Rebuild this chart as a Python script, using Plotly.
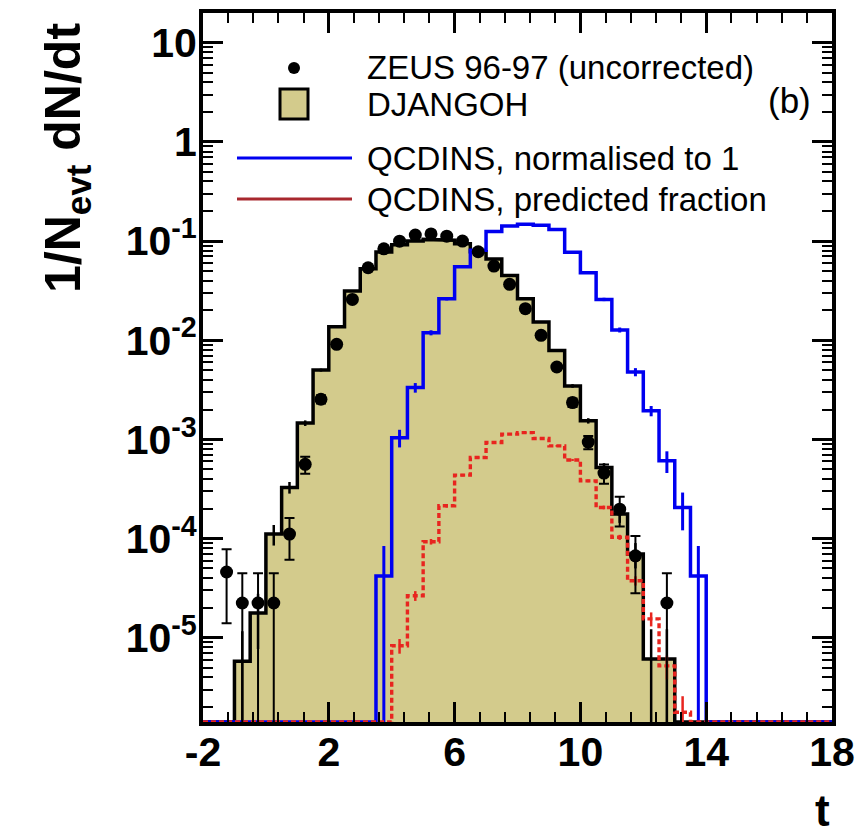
import numpy as np
import plotly.graph_objects as go

# ---------------- data ----------------
BIN_LO = -2.0
BIN_W = 0.5
N_BINS = 40

# DJANGOH MC, 1/N dN/dt per bin (bins of 0.5 starting at t=-2)
djangoh = [0, 0, 5.8e-6, 1.77e-5, 1.11e-4, 3.28e-4, 1.46e-3, 5.0e-3, 1.37e-2, 3.13e-2,
           5.26e-2, 7.74e-2, 9.2e-2, 1.00e-1, 1.04e-1, 1.02e-1, 9.4e-2, 7.8e-2, 6.6e-2, 4.5e-2,
           2.62e-2, 1.53e-2, 7.9e-3, 3.46e-3, 1.54e-3, 5.2e-4, 1.77e-4, 7.0e-5, 6.1e-6, 6.1e-6,
           0, 0, 0, 0, 0, 0, 0, 0, 0, 0]
djangoh_err = [0, 0, 5.8e-6, 1.0e-5, 2.6e-5, 4.4e-5, 9.4e-5, 1.7e-4, 2.9e-4, 4.3e-4,
               5.6e-4, 6.8e-4, 7.4e-4, 7.8e-4, 7.9e-4, 7.8e-4, 7.5e-4, 6.8e-4, 6.3e-4, 5.2e-4,
               4.0e-4, 3.0e-4, 2.2e-4, 1.45e-4, 9.6e-5, 5.6e-5, 3.3e-5, 2.0e-5, 6.1e-6, 6.1e-6,
               0, 0, 0, 0, 0, 0, 0, 0, 0, 0]

# QCDINS normalised to 1
qcdins_norm = [0, 0, 0, 0, 0, 0, 0, 0, 0, 0,
               0, 4.2e-5, 1.04e-3, 3.33e-3, 1.19e-2, 2.62e-2, 5.5e-2, 8.1e-2, 1.25e-1, 1.42e-1,
               1.48e-1, 1.44e-1, 1.31e-1, 7.7e-2, 4.8e-2, 2.58e-2, 1.27e-2, 4.78e-3, 1.94e-3, 6.08e-4,
               2.06e-4, 4.2e-5, 0, 0, 0, 0, 0, 0, 0, 0]
qcdins_norm_err = [0, 0, 0, 0, 0, 0, 0, 0, 0, 0,
                   0, 4.2e-5, 2.1e-4, 3.7e-4, 7.0e-4, 1.0e-3, 1.5e-3, 1.8e-3, 2.3e-3, 2.4e-3,
                   2.5e-3, 2.4e-3, 2.3e-3, 1.8e-3, 1.4e-3, 1.0e-3, 7.3e-4, 4.5e-4, 2.3e-4, 1.5e-4,
                   8.5e-5, 4.2e-5, 0, 0, 0, 0, 0, 0, 0, 0]

# QCDINS predicted fraction
qcdins_frac = [0, 0, 0, 0, 0, 0, 0, 0, 0, 0,
               0, 0, 8.3e-6, 2.65e-5, 9.3e-5, 2.14e-4, 4.36e-4, 6.56e-4, 9.3e-4, 1.13e-3,
               1.17e-3, 1.02e-3, 8.6e-4, 6.2e-4, 3.82e-4, 2.06e-4, 1.03e-4, 3.76e-5, 1.55e-5, 5.2e-6,
               1.77e-6, 0, 0, 0, 0, 0, 0, 0, 0, 0]
qcdins_frac_err = [0, 0, 0, 0, 0, 0, 0, 0, 0, 0,
                   0, 0, 1.4e-6, 3.0e-6, 6.0e-6, 9.0e-6, 1.3e-5, 1.6e-5, 1.9e-5, 2.1e-5,
                   2.1e-5, 2.0e-5, 1.8e-5, 1.5e-5, 1.2e-5, 9.0e-6, 6.0e-6, 4.0e-6, 2.5e-6, 1.4e-6,
                   8.0e-7, 0, 0, 0, 0, 0, 0, 0, 0, 0]

# ZEUS 96-97 data points
data_t = [-1.25, -0.75, -0.25, 0.25, 0.75, 1.25, 1.75, 2.25, 2.75, 3.25, 3.75, 4.25, 4.75, 5.25,
          5.75, 6.25, 6.75, 7.25, 7.75, 8.25, 8.75, 9.25, 9.75, 10.25, 10.75, 11.25, 11.75, 12.75]
data_v = [4.6e-5, 2.24e-5, 2.24e-5, 2.24e-5, 1.11e-4, 5.6e-4, 2.54e-3, 9.1e-3, 2.58e-2, 5.38e-2,
          8.36e-2, 9.98e-2, 1.15e-1, 1.18e-1, 1.12e-1, 1.00e-1, 7.8e-2, 5.59e-2, 3.66e-2, 2.08e-2,
          1.12e-2, 5.37e-3, 2.35e-3, 9.4e-4, 4.57e-4, 1.98e-4, 6.7e-5, 2.24e-5]
data_e = [3.2e-5, 2.24e-5, 2.24e-5, 2.24e-5, 5.0e-5, 1.1e-4, 2.4e-4, 4.5e-4, 7.6e-4, 1.1e-3,
          1.4e-3, 1.5e-3, 1.6e-3, 1.6e-3, 1.6e-3, 1.5e-3, 1.3e-3, 1.1e-3, 9.0e-4, 6.8e-4,
          5.0e-4, 3.5e-4, 2.3e-4, 1.45e-4, 1.0e-4, 6.6e-5, 3.9e-5, 2.24e-5]

x_tick_vals = [-2, 2, 6, 10, 14, 18]
x_tick_text = ["-2", "2", "6", "10", "14", "18"]
y_tick_vals = [10, 1, 1e-1, 1e-2, 1e-3, 1e-4, 1e-5]
y_tick_text = ["10", "1", "10<sup>-1</sup>", "10<sup>-2</sup>", "10<sup>-3</sup>",
               "10<sup>-4</sup>", "10<sup>-5</sup>"]

legend_labels = ["ZEUS 96-97 (uncorrected)", "DJANGOH",
                 "QCDINS, normalised to 1", "QCDINS, predicted fraction"]

# ---------------- styling / layout ----------------
BODY = 8                      # default page margin of the html body
W, H = 866 - BODY, 837 - BODY
# plot area in page pixels
PL, PR, PT, PB = 203, 832, 13, 722
L, T = PL - BODY, PT - BODY
R, B = W - (PR - BODY), H - (PB - BODY)
PW, PH = PR - PL, PB - PT
X_RANGE = [-2, 18]
Y_LOG_RANGE = [-5.85, 1.30]
FLOOR = 10 ** Y_LOG_RANGE[0]

FILL = "rgb(211,203,140)"
BLUE = "#0000F0"
RED = "#E8251F"
RED_LEG = "#A8282E"
FONT = "Liberation Sans, Arial, sans-serif"

edges = BIN_LO + BIN_W * np.arange(N_BINS + 1)
centers = 0.5 * (edges[:-1] + edges[1:])


def step_xy(vals):
    xs, ys = [], []
    for lo, hi, v in zip(edges[:-1], edges[1:], vals):
        v = v if v > 0 else FLOOR
        xs += [lo, hi]
        ys += [v, v]
    return xs, ys


def err_trace(vals, errs, color, width):
    cx, cy, ce = [], [], []
    for c, v, e in zip(centers, vals, errs):
        if v > 0 and e > 0:
            cx.append(c); cy.append(v); ce.append(e)
    return go.Scatter(x=cx, y=cy, mode="markers",
                      marker=dict(size=1, color="rgba(0,0,0,0)"),
                      error_y=dict(type="data", array=ce, arrayminus=ce, color=color,
                                   thickness=width, width=0),
                      showlegend=False, hoverinfo="skip")


def px(xp, yp):
    """page pixel -> paper coordinates"""
    return (xp - PL) / PW, 1 - (yp - PT) / PH


fig = go.Figure()

# DJANGOH fill
dx, dy = step_xy(djangoh)
fig.add_trace(go.Scatter(x=dx + [edges[-1], edges[0]], y=dy + [FLOOR, FLOOR],
                         fill="toself", fillcolor=FILL, mode="none",
                         showlegend=False, hoverinfo="skip"))
# DJANGOH outline
fig.add_trace(go.Scatter(x=dx, y=dy, mode="lines", line=dict(color="black", width=3.5),
                         showlegend=False))
fig.add_trace(err_trace(djangoh, djangoh_err, "black", 2.5))

# QCDINS normalised
bx, by = step_xy(qcdins_norm)
fig.add_trace(go.Scatter(x=bx, y=by, mode="lines", line=dict(color=BLUE, width=3.5),
                         showlegend=False))
fig.add_trace(err_trace(qcdins_norm, qcdins_norm_err, BLUE, 3))

# QCDINS predicted fraction
rx, ry = step_xy(qcdins_frac)
fig.add_trace(go.Scatter(x=rx, y=ry, mode="lines",
                         line=dict(color=RED, width=3.4, dash="5px,3px"),
                         showlegend=False))
fig.add_trace(err_trace(qcdins_frac, qcdins_frac_err, RED, 2.5))

# data
fig.add_trace(go.Scatter(x=data_t, y=data_v, mode="markers",
                         marker=dict(color="black", size=13, symbol="circle"),
                         error_y=dict(type="data", array=data_e, arrayminus=data_e,
                                      color="black", thickness=2, width=5),
                         showlegend=False))

# ---------------- manual legend ----------------
shapes = []
annotations = []
sym_cx = 294
rows_y = [68, 104, 158, 199]
# dot
x0, y0 = px(sym_cx - 6, rows_y[0] - 6)
x1, y1 = px(sym_cx + 6, rows_y[0] + 6)
shapes.append(dict(type="circle", xref="paper", yref="paper", x0=x0, x1=x1, y0=y0, y1=y1,
                   fillcolor="black", line=dict(color="black", width=0)))
# box
x0, y0 = px(sym_cx - 14, rows_y[1] - 15)
x1, y1 = px(sym_cx + 14, rows_y[1] + 15)
shapes.append(dict(type="rect", xref="paper", yref="paper", x0=x0, x1=x1, y0=y0, y1=y1,
                   fillcolor=FILL, line=dict(color="black", width=3)))
# lines
for yy, col in [(rows_y[2], BLUE), (rows_y[3], RED_LEG)]:
    x0, y0 = px(237, yy)
    x1, _ = px(352, yy)
    shapes.append(dict(type="line", xref="paper", yref="paper", x0=x0, x1=x1, y0=y0, y1=y0,
                       line=dict(color=col, width=3)))
for lab, yy in zip(legend_labels, rows_y):
    ax_, ay_ = px(365, yy)
    annotations.append(dict(text=lab, xref="paper", yref="paper", x=ax_, y=ay_,
                            xanchor="left", yanchor="middle", showarrow=False,
                            font=dict(family=FONT, size=33, color="black")))

# (b) label
bx_, by_ = px(789, 100)
annotations.append(dict(text="(b)", xref="paper", yref="paper", x=bx_, y=by_,
                        xanchor="center", yanchor="middle", showarrow=False,
                        font=dict(family=FONT, size=35, color="black")))
# axis titles
tx, ty = px(822, 810)
annotations.append(dict(text="<b>t</b>", xref="paper", yref="paper", x=tx, y=ty,
                        xanchor="center", yanchor="middle", showarrow=False,
                        font=dict(family=FONT, size=44, color="black")))
yx, yy_ = px(66, 158)
annotations.append(dict(text="<b>1/N<sub>evt</sub> dN/dt</b>", xref="paper", yref="paper",
                        x=yx, y=yy_, xanchor="center", yanchor="middle", showarrow=False,
                        textangle=-90, font=dict(family=FONT, size=50, color="black")))

minor_y = [k * 10.0 ** e for e in range(-7, 2) for k in range(2, 10)
           if Y_LOG_RANGE[0] <= np.log10(k * 10.0 ** e) <= Y_LOG_RANGE[1]]

fig.update_layout(
    width=W, height=H,
    margin=dict(l=L, r=R, t=T, b=B, autoexpand=False),
    paper_bgcolor="white", plot_bgcolor="white",
    showlegend=False,
    shapes=shapes, annotations=annotations,
    xaxis=dict(range=X_RANGE, showgrid=False, zeroline=False, automargin=False,
               showline=True, linecolor="black", linewidth=4, mirror="ticks",
               ticks="inside", ticklen=20, tickwidth=2.5, tickcolor="black",
               tickmode="array", tickvals=x_tick_vals, ticktext=x_tick_text,
               ticklabelstandoff=-9,
               tickfont=dict(family=FONT, size=41, color="black", weight="bold"),
               minor=dict(ticks="inside", ticklen=10, tickwidth=2, tickcolor="black",
                          dtick=0.8, tick0=-2, showgrid=False)),
    yaxis=dict(type="log", range=Y_LOG_RANGE, showgrid=False, zeroline=False, automargin=False,
               showline=True, linecolor="black", linewidth=4, mirror="ticks",
               ticks="inside", ticklen=20, tickwidth=2.5, tickcolor="black",
               tickmode="array", tickvals=y_tick_vals, ticktext=y_tick_text,
               ticklabelstandoff=-6,
               tickfont=dict(family=FONT, size=41, color="black", weight="bold"),
               minor=dict(ticks="inside", ticklen=10, tickwidth=2, tickcolor="black",
                          tickmode="array", tickvals=minor_y, showgrid=False)),
)

fig.write_html("out.html")
